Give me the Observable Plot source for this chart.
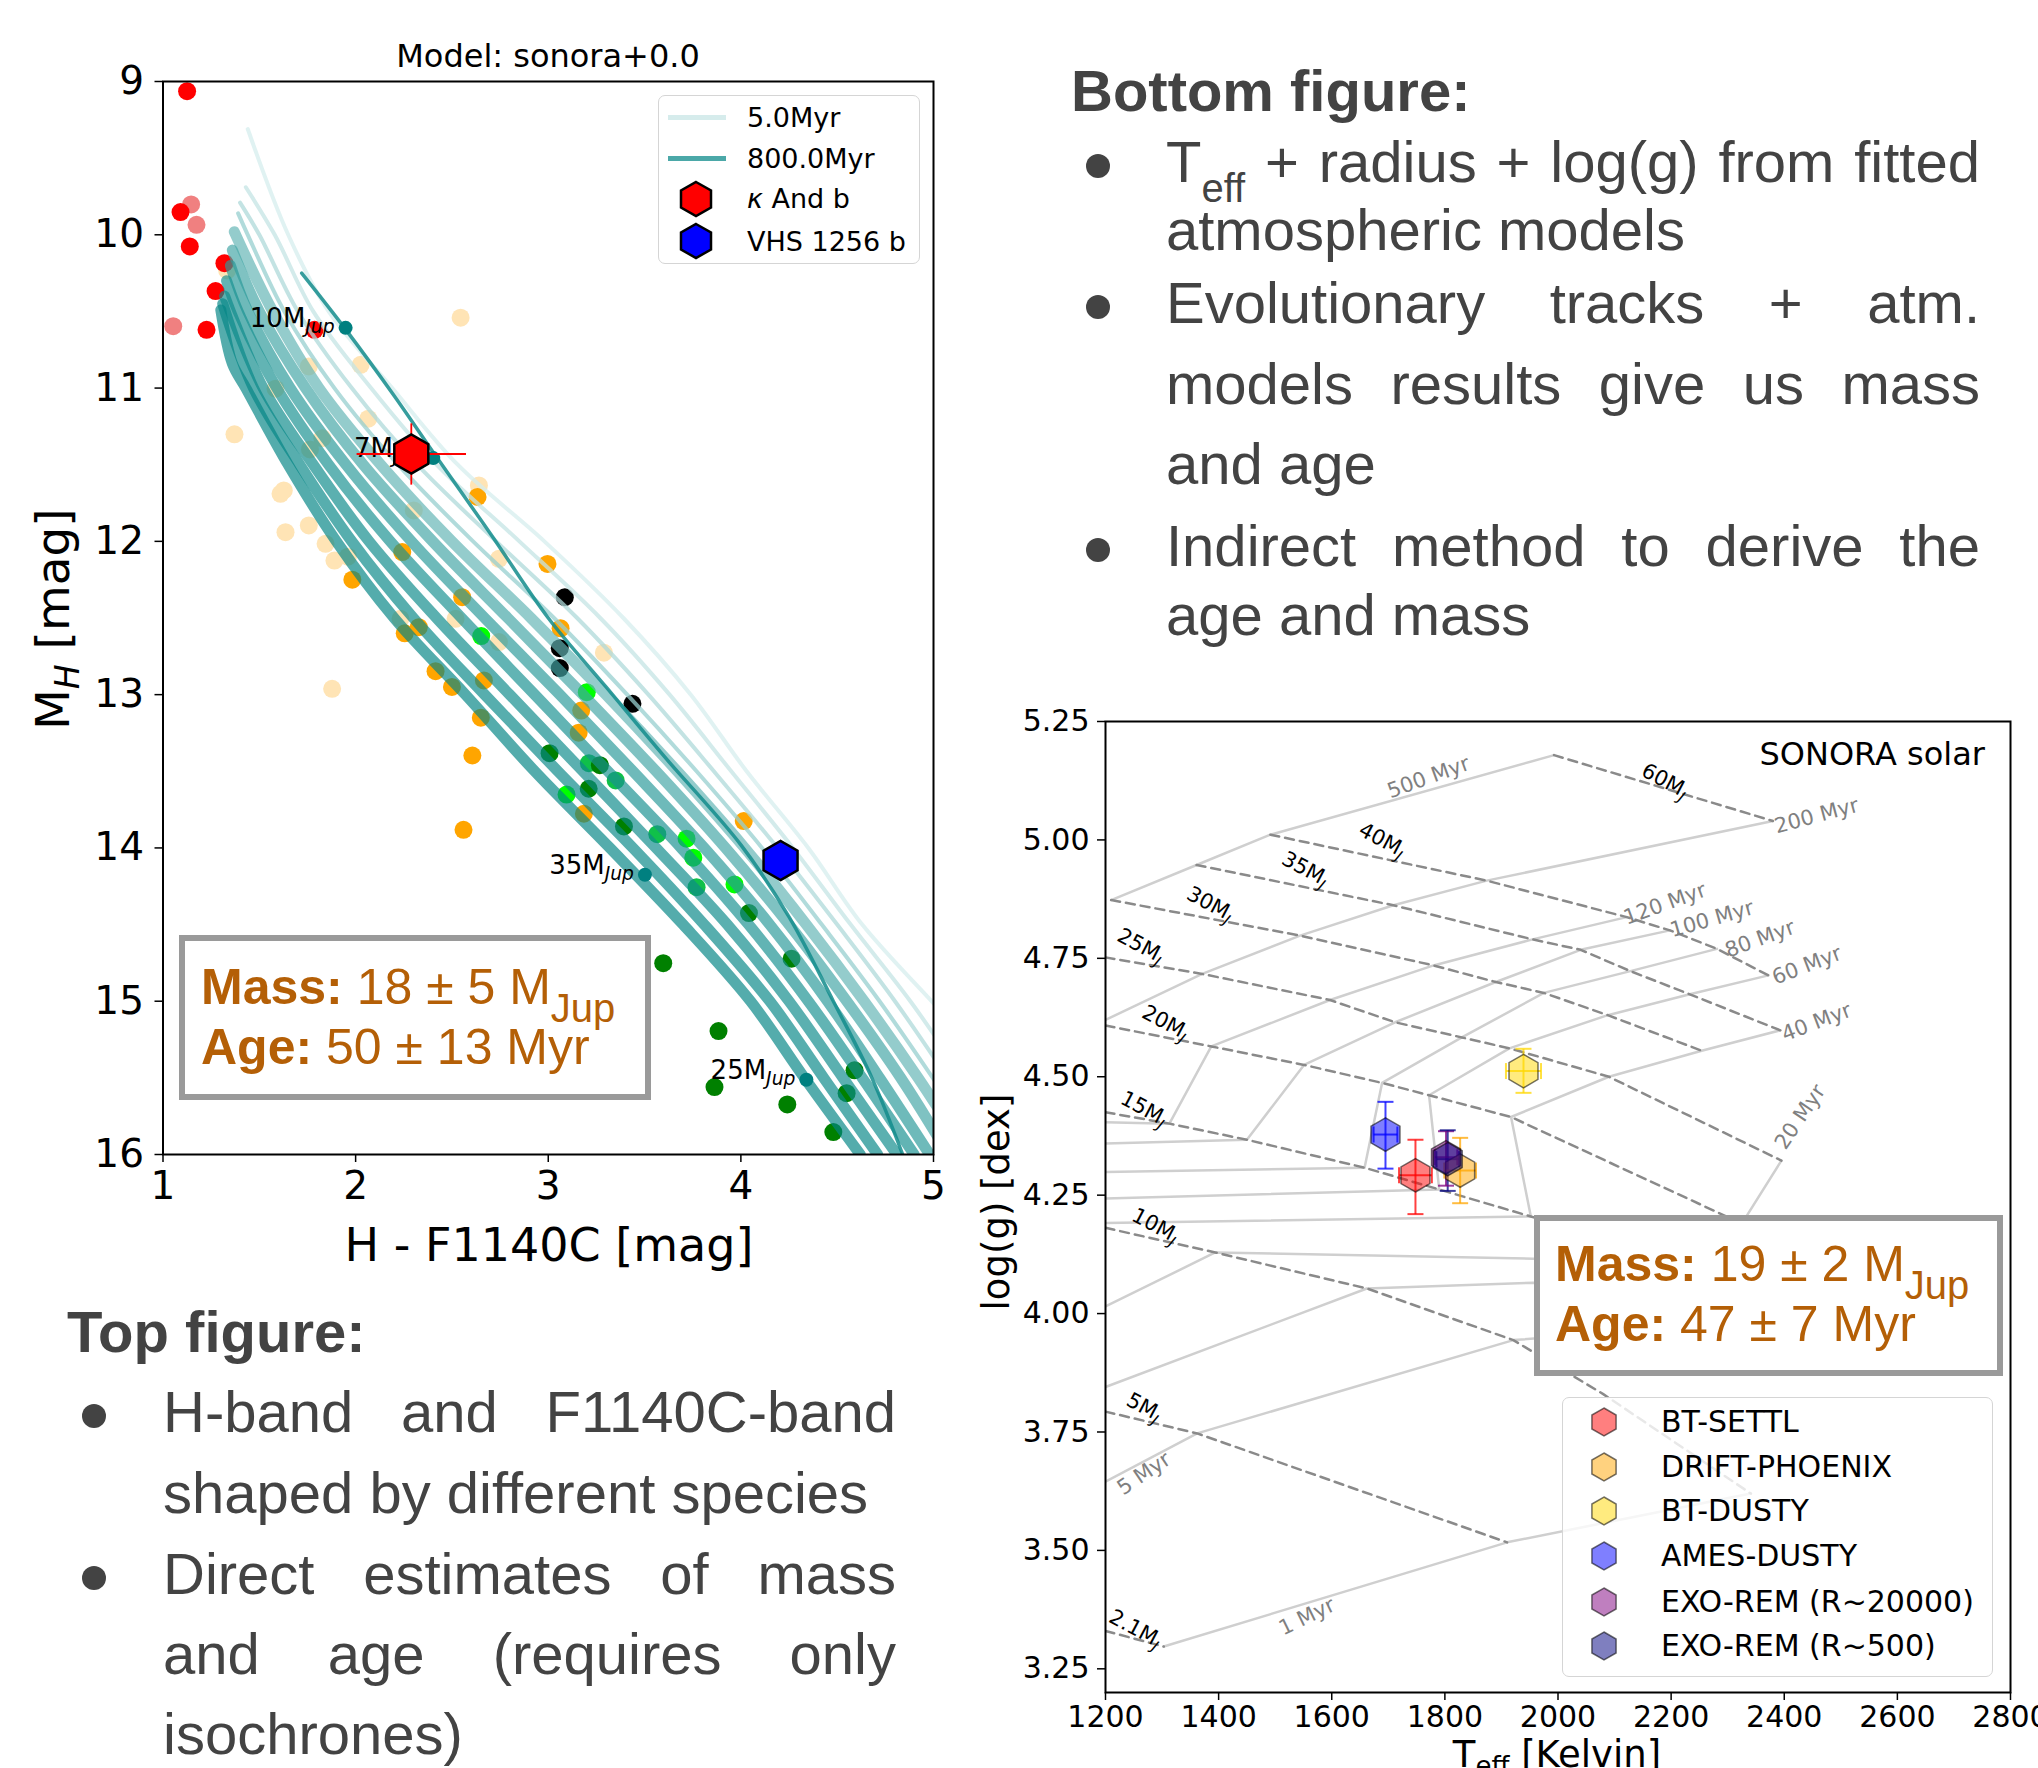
<!DOCTYPE html>
<html>
<head>
<meta charset="utf-8">
<script src="https://cdn.jsdelivr.net/npm/d3@7"></script>
<script src="https://cdn.jsdelivr.net/npm/@observablehq/plot@0.6"></script>
<style>
html,body{margin:0;padding:0;background:#fff;}
body{position:relative;width:2038px;height:1768px;overflow:hidden;}
.a{position:absolute;white-space:nowrap;}
.slide{font-family:"Liberation Sans",Arial,Helvetica,sans-serif;color:#434343;font-size:58px;line-height:58px;}
.j{text-align:justify;text-align-last:justify;}
.dotb{position:absolute;width:24px;height:24px;border-radius:50%;background:#434343;}
.mpl{font-family:"DejaVu Sans",sans-serif;color:#000;}
.box{position:absolute;box-sizing:border-box;border:6px solid #9a9a9a;background:#fff;}
.ma{font-family:"Liberation Sans",Arial,sans-serif;color:#b45f06;font-size:50px;line-height:50px;}
.ma b{font-weight:bold;}
.msub{font-size:40px;position:relative;top:18px;}
.tsub{font-size:40px;position:relative;top:20px;}
.leg{position:absolute;box-sizing:border-box;border:1.5px solid #d5d5d5;border-radius:7px;background:rgba(255,255,255,0.8);}
</style>
</head>
<body>
<div id="leftChart" class="a" style="left:0;top:0"></div>
<div id="rightChart" class="a" style="left:1000px;top:680px"></div>

<!-- left panel titles / labels -->
<div class="a mpl" style="left:548px;top:38px;transform:translateX(-50%);font-size:32px;line-height:36px;">Model: sonora+0.0</div>
<div class="a mpl" style="left:549px;top:1218px;transform:translateX(-50%);font-size:46px;line-height:54px;">H - F1140C [mag]</div>
<div class="a mpl" style="left:55px;top:619px;transform:translate(-50%,-50%) rotate(-90deg);font-size:47px;line-height:54px;">M<span style="font-style:italic;font-size:33px;position:relative;top:10px;">H</span> [mag]</div>

<!-- left legend -->
<div class="leg" style="left:658px;top:95px;width:262px;height:169px;"></div>
<div class="a" style="left:668px;top:115px;width:58px;height:5px;background:#d6ecec;"></div>
<div class="a" style="left:668px;top:156px;width:58px;height:5px;background:#4ba8a8;"></div>
<svg class="a" style="left:679px;top:180px" width="34" height="38"><polygon points="17,2 32,10.5 32,27.5 17,36 2,27.5 2,10.5" fill="#ff0000" stroke="#000" stroke-width="2.5"/></svg>
<svg class="a" style="left:679px;top:222px" width="34" height="38"><polygon points="17,2 32,10.5 32,27.5 17,36 2,27.5 2,10.5" fill="#0000ff" stroke="#000" stroke-width="2.5"/></svg>
<div class="a mpl" style="left:747px;top:102px;font-size:27px;line-height:32px;">5.0Myr</div>
<div class="a mpl" style="left:747px;top:143px;font-size:27px;line-height:32px;">800.0Myr</div>
<div class="a mpl" style="left:747px;top:183px;font-size:27px;line-height:32px;"><i>κ</i> And b</div>
<div class="a mpl" style="left:747px;top:226px;font-size:27px;line-height:32px;">VHS 1256 b</div>

<!-- left result box -->
<div class="box" style="left:179px;top:935px;width:472px;height:165px;"></div>
<div class="a ma" style="left:201px;top:962px;"><b>Mass:</b> 18 ± 5 M<span class="msub">Jup</span></div>
<div class="a ma" style="left:201px;top:1022px;"><b>Age:</b> 50 ± 13 Myr</div>

<!-- right panel labels -->
<div class="a mpl" style="left:1985px;top:736px;transform:translateX(-100%);font-size:32px;line-height:36px;">SONORA solar</div>
<div class="a mpl" style="left:997px;top:1202px;transform:translate(-50%,-50%) rotate(-90deg);font-size:37px;line-height:44px;">log(g) [dex]</div>
<div class="a mpl" style="left:1557px;top:1733px;transform:translateX(-50%);font-size:37px;line-height:44px;">T<span style="font-size:26px;position:relative;top:8px;">eff</span> [Kelvin]</div>

<!-- right result box -->
<div class="box" style="left:1534px;top:1215px;width:469px;height:161px;"></div>
<div class="a ma" style="left:1555px;top:1239px;"><b>Mass:</b> 19 ± 2 M<span class="msub">Jup</span></div>
<div class="a ma" style="left:1555px;top:1299px;"><b>Age:</b> 47 ± 7 Myr</div>

<!-- right legend -->
<div id="rightLegend"></div>

<!-- slide text: bottom figure -->
<div class="a slide" style="left:1071px;top:62px;font-weight:bold;">Bottom figure:</div>
<div class="dotb" style="left:1086px;top:154px;"></div>
<div class="a slide j" style="left:1166px;top:133px;width:814px;">T<span class="tsub">eff</span> + radius + log(g) from fitted</div>
<div class="a slide" style="left:1166px;top:201px;">atmospheric models</div>
<div class="dotb" style="left:1086px;top:295px;"></div>
<div class="a slide j" style="left:1166px;top:274px;width:814px;">Evolutionary tracks + atm.</div>
<div class="a slide j" style="left:1166px;top:355px;width:814px;">models results give us mass</div>
<div class="a slide" style="left:1166px;top:435px;">and age</div>
<div class="dotb" style="left:1086px;top:538px;"></div>
<div class="a slide j" style="left:1166px;top:517px;width:814px;">Indirect method to derive the</div>
<div class="a slide" style="left:1166px;top:586px;">age and mass</div>

<!-- slide text: top figure -->
<div class="a slide" style="left:67px;top:1303px;font-weight:bold;">Top figure:</div>
<div class="dotb" style="left:82px;top:1404px;"></div>
<div class="a slide j" style="left:163px;top:1383px;width:733px;">H-band and F1140C-band</div>
<div class="a slide" style="left:163px;top:1464px;">shaped by different species</div>
<div class="dotb" style="left:82px;top:1566px;"></div>
<div class="a slide j" style="left:163px;top:1545px;width:733px;">Direct estimates of mass</div>
<div class="a slide j" style="left:163px;top:1625px;width:733px;">and age (requires only</div>
<div class="a slide" style="left:163px;top:1705px;">isochrones)</div>

<script>
// ===================== LEFT PANEL DATA (H - F1140C vs M_H) =====================
const xTicksLeft = [1, 2, 3, 4, 5];
const yTicksLeft = [9, 10, 11, 12, 13, 14, 15, 16];

// field objects, by colour class: [colour, M_H]
const redPts = [[1.125,9.063],[1.091,9.852],[1.139,10.076],[1.319,10.185],[1.273,10.367],[1.226,10.62],[1.787,10.62]];
const coralPts = [[1.146,9.802],[1.174,9.935],[1.053,10.596]];
const moccasinPts = [[2.545,10.541],[1.333,10.233],[1.757,10.859],[2.026,10.848],[1.584,11.004],[2.066,11.2],[1.371,11.302],[1.827,11.327],[1.627,11.668],[1.636,11.94],[1.757,11.896],[1.844,12.016],[1.89,12.125],[1.878,12.962],[2.233,12.505],[2.744,12.114],[3.289,12.726],[2.744,12.657],[2.302,11.798],[2.64,11.635],[1.763,11.40],[1.61,11.69],[2.519,12.505],[1.96,12.1]];
const orangePts = [[2.633,11.71],[2.996,12.147],[1.983,12.25],[3.064,12.567],[2.255,12.6],[2.328,12.56],[2.415,12.847],[2.5,12.95],[2.65,13.15],[3.171,13.104],[3.158,13.248],[2.606,13.397],[3.185,13.777],[2.56,13.882],[4.015,13.825],[2.242,12.07],[2.553,12.364],[2.666,12.907]];
const blackPts = [[3.086,12.364],[3.06,12.697],[3.06,12.827],[3.437,13.06]];
const limePts = [[2.652,12.618],[3.2,12.984],[3.095,13.652],[3.718,13.94],[3.753,14.064],[3.967,14.238]];
const midGreenPts = [[3.35,13.56],[3.211,13.447],[3.566,13.91],[3.77,14.256]];
const darkGreenPts = [[3.268,13.46],[4.042,14.425],[3.597,14.752],[3.884,15.195],[3.863,15.56],[4.241,15.673],[4.48,15.854],[4.263,14.723],[4.59,15.451],[4.549,15.6],[3.393,13.86],[3.007,13.382],[3.21,13.614]];

// isochrones, from youngest (5 Myr) to oldest (800 Myr): [colour, M_H]
const isoA = [[1.44,9.31],[1.65,10.0],[1.86,10.5],[2.19,11.0],[2.53,11.5],[2.98,12.0],[3.39,12.5],[3.74,13.0],[4.03,13.5],[4.35,14.0],[4.63,14.5],[4.99,15.0],[5.1,15.15]];
const isoB = [[1.43,9.69],[1.58,10.0],[1.78,10.5],[2.08,11.0],[2.42,11.5],[2.85,12.0],[3.27,12.5],[3.63,13.0],[3.95,13.5],[4.27,14.0],[4.57,14.5],[4.88,15.0],[5.1,15.4]];
const isoC = [[1.40,9.79],[1.50,10.0],[1.70,10.5],[1.98,11.0],[2.32,11.5],[2.73,12.0],[3.15,12.5],[3.52,13.0],[3.86,13.5],[4.19,14.0],[4.50,14.5],[4.80,15.0],[5.1,15.55]];
const isoD = [[1.39,9.86],[1.44,10.0],[1.63,10.5],[1.89,11.0],[2.22,11.5],[2.61,12.0],[3.03,12.5],[3.41,13.0],[3.77,13.5],[4.11,14.0],[4.42,14.5],[4.72,15.0],[5.05,15.6]];
const isoE = [[1.37,9.98],[1.57,10.5],[1.81,11.0],[2.13,11.5],[2.50,12.0],[2.91,12.5],[3.30,13.0],[3.67,13.5],[4.02,14.0],[4.34,14.5],[4.64,15.0],[4.92,15.5],[5.05,15.75]];
const isoF = [[1.36,10.1],[1.50,10.5],[1.74,11.0],[2.04,11.5],[2.40,12.0],[2.79,12.5],[3.18,13.0],[3.56,13.5],[3.92,14.0],[4.25,14.5],[4.55,15.0],[4.83,15.5],[5.03,15.9]];
const isoG = [[1.35,10.2],[1.44,10.5],[1.66,11.0],[1.95,11.5],[2.29,12.0],[2.67,12.5],[3.06,13.0],[3.44,13.5],[3.81,14.0],[4.15,14.5],[4.45,15.0],[4.72,15.5],[4.98,16.0]];
const isoH = [[1.33,10.3],[1.39,10.5],[1.59,11.0],[1.86,11.5],[2.18,12.0],[2.55,12.5],[2.93,13.0],[3.31,13.5],[3.69,14.0],[4.04,14.5],[4.35,15.0],[4.63,15.5],[4.90,16.0]];
const isoI = [[1.32,10.4],[1.35,10.5],[1.52,11.0],[1.78,11.5],[2.07,12.0],[2.42,12.5],[2.80,13.0],[3.18,13.5],[3.56,14.0],[3.93,14.5],[4.25,15.0],[4.53,15.5],[4.81,16.0]];
const isoJ = [[1.31,10.45],[1.47,11.0],[1.71,11.5],[1.98,12.0],[2.30,12.5],[2.67,13.0],[3.05,13.5],[3.44,14.0],[3.81,14.5],[4.15,15.0],[4.43,15.5],[4.71,16.0]];
const isoK = [[1.30,10.49],[1.36,10.84],[1.43,11.0],[1.65,11.5],[1.90,12.0],[2.20,12.5],[2.57,13.0],[2.93,13.5],[3.32,14.0],[3.70,14.5],[4.05,15.0],[4.33,15.5],[4.62,16.0]];
const isoHighlight = [[1.72,10.25],[1.95,10.62],[2.2,11.05],[2.42,11.45],[2.7,11.95],[3.0,12.5],[3.3,12.95],[3.6,13.4],[4.0,13.98],[4.25,14.45],[4.48,15.0],[4.68,15.5],[4.84,16.0]];

const markerLabels = ["10M|Jup", "7M|Jup", "35M|Jup", "25M|Jup"];
const markerX = [1.948, 2.403, 3.502, 4.340];
const markerY = [10.607, 11.457, 14.175, 15.512];

const kAndB = {x: 2.289, y: 11.43, xerr: 0.284, yerr: 0.2};
const vhs1256b = {x: 4.206, y: 14.082};

// ===================== RIGHT PANEL DATA (Teff vs log g) =====================
const xTicksRight = [1200, 1400, 1600, 1800, 2000, 2200, 2400, 2600, 2800];
const yTicksRight = [3.25, 3.5, 3.75, 4.0, 4.25, 4.5, 4.75, 5.0, 5.25];

// mass tracks (dashed): [Teff, log g]
const track2p1 = [[1200,3.33],[1303,3.297]];
const track5 = [[1200,3.793],[1362,3.747],[1910,3.517]];
const track10 = [[1200,4.181],[1394,4.129],[1662,4.053],[1921,3.944],[2080,3.83],[2341,3.62]];
const track15 = [[1200,4.425],[1313,4.401],[1450,4.367],[1658,4.308],[1790,4.262],[1952,4.205],[2250,4.10]];
const track20 = [[1200,4.608],[1387,4.564],[1551,4.525],[1689,4.487],[1772,4.461],[1917,4.415],[2325,4.19]];
const track25 = [[1200,4.752],[1371,4.717],[1597,4.662],[1712,4.615],[1830,4.583],[1914,4.56],[2090,4.50],[2395,4.323]];
const track30 = [[1210,4.873],[1544,4.798],[1780,4.735],[1890,4.70],[1975,4.677],[2088,4.63],[2254,4.555]];
const track35 = [[1361,4.947],[1709,4.862],[1955,4.79],[2040,4.768],[2128,4.723],[2233,4.674],[2393,4.598]];
const track40 = [[1491.5,5.011],[1874,4.914],[2121.5,4.837],[2198,4.809],[2281,4.770],[2372,4.714]];
const track60 = [[1993,5.179],[2380,5.04]];

// isochrones (solid): [Teff, log g]
const iso500 = [[1210,4.873],[1361,4.947],[1491.5,5.011],[1993,5.179]];
const iso200 = [[1200,4.620],[1371,4.717],[1544,4.798],[1709,4.862],[1874,4.914],[2380,5.04]];
const iso120 = [[1200,4.404],[1313,4.401],[1387,4.564],[1597,4.662],[1780,4.735],[1955,4.79],[2121.5,4.837]];
const iso100 = [[1200,4.359],[1450,4.367],[1551,4.525],[1712,4.615],[1890,4.70],[2040,4.768],[2198,4.809]];
const iso80 = [[1200,4.299],[1658,4.308],[1689,4.487],[1830,4.583],[1975,4.677],[2128,4.723],[2281,4.770]];
const iso60 = [[1200,4.243],[1790,4.262],[1772,4.461],[1914,4.56],[2088,4.63],[2233,4.674],[2372,4.714]];
const iso40 = [[1200,4.191],[1952,4.205],[1917,4.415],[2090,4.50],[2254,4.555],[2393,4.598]];
const iso20 = [[1200,4.015],[1394,4.129],[1956,4.116],[2250,4.10],[2325,4.19],[2395,4.323]];
const iso10 = [[1200,3.845],[1662,4.053],[1956,4.065],[2200,4.05]];
const iso5 = [[1200,3.645],[1362,3.747],[1921,3.944],[2100,3.96]];
const iso1 = [[1303,3.297],[1910,3.517],[2341,3.62]];

const massLabels = ["60M|J","40M|J","35M|J","30M|J","25M|J","20M|J","15M|J","10M|J","5M|J","2.1M|J"];
const massLabelT = [2189, 1689, 1553, 1385, 1262, 1306, 1268, 1288, 1268, 1253];
const massLabelG = [5.125, 5.0, 4.939, 4.865, 4.777, 4.615, 4.433, 4.186, 3.803, 3.335];

const ageLabels = ["500 Myr","200 Myr","120 Myr","100 Myr","80 Myr","60 Myr","40 Myr","20 Myr","5 Myr","1 Myr"];
const ageLabelT = [1771, 2457, 2189, 2272, 2357, 2440, 2457, 2428, 1268, 1556];
const ageLabelG = [5.132, 5.051, 4.865, 4.833, 4.791, 4.735, 4.615, 4.415, 3.662, 3.36];

const models = ["BT-SETTL","DRIFT-PHOENIX","BT-DUSTY","AMES-DUSTY","EXO-REM (R~20000)","EXO-REM (R~500)"];
const modelTeff = [1748, 1827, 1939, 1695, 1802, 1805];
const modelTeffErr = [29, 28, 31, 21, 20, 20];
const modelLogg = [4.292, 4.302, 4.512, 4.378, 4.33, 4.326];
const modelLoggLo = [4.21, 4.233, 4.466, 4.306, 4.27, 4.259];
const modelLoggHi = [4.367, 4.371, 4.559, 4.447, 4.385, 4.387];

// ===================== STYLES (kept apart from the data) =====================
const scatterColors = {moccasin:"#ffe4b5", coral:"#f08080", red:"#ff0000", orange:"#ffa500", black:"#000000", lime:"#00ff00", mid:"#10c04a", dark:"#008000"};
const lightShades = ["#d6eded","#c4e4e4","#afdada","#97cfcf"];
const darkShades = ["#62b4b4","#43a5a5","#2a9999","#189191","#0e8b8b","#088888","#038585"];
const modelColors = ["#ff0000","#ffa500","#ffd700","#0000ff","#800080","#000080"];
const ageLabelAngles = [-20, -15, -20, -16, -20, -21, -21, -56, -34, -26];
const massLabelAngle = 28;

// ===================== helpers =====================
function addSubscripts(svg, italic) {
  svg.querySelectorAll("text").forEach(t => {
    const s = t.textContent;
    if (s.includes("|")) {
      const [a, b] = s.split("|");
      t.textContent = a;
      const ts = document.createElementNS("http://www.w3.org/2000/svg", "tspan");
      ts.setAttribute("font-size", "0.72em");
      ts.setAttribute("dy", "0.32em");
      if (italic) ts.setAttribute("font-style", "italic");
      ts.textContent = b;
      t.appendChild(ts);
    }
  });
}
const hCap = {draw(ctx, size) { const r = Math.sqrt(size / Math.PI); ctx.moveTo(-r, 0); ctx.lineTo(r, 0); }};
const vCap = {draw(ctx, size) { const r = Math.sqrt(size / Math.PI); ctx.moveTo(0, -r); ctx.lineTo(0, r); }};
const intFmt = d3.format("d");

// ===================== LEFT PANEL =====================
const scatter = [];
const addPts = (arr, c) => arr.forEach(([x, y]) => scatter.push({x, y, c}));
addPts(moccasinPts, "moccasin"); addPts(coralPts, "coral"); addPts(redPts, "red");
addPts(orangePts, "orange"); addPts(blackPts, "black"); addPts(limePts, "lime");
addPts(midGreenPts, "mid"); addPts(darkGreenPts, "dark");

const lightIsos = [isoA, isoB, isoC, isoD];
const darkIsos = [isoE, isoF, isoG, isoH, isoI, isoJ, isoK];
const lightRows = lightIsos.flatMap((pts, i) => pts.map(([x, y]) => ({x, y, id: i})));
const darkRows = darkIsos.flatMap((pts, i) => pts.map(([x, y]) => ({x, y, id: i})));
const markers = markerLabels.map((label, i) => ({label, x: markerX[i], y: markerY[i]}));

const left = Plot.plot({
  width: 960, height: 1200,
  marginLeft: 162.5, marginRight: 27, marginTop: 81, marginBottom: 46,
  style: {fontFamily: "DejaVu Sans", fontSize: "39px", color: "#000", background: "transparent", overflow: "visible"},
  color: {type: "identity"},
  x: {domain: [1, 5], label: null},
  y: {domain: [9, 16], reverse: true, label: null},
  marks: [
    Plot.dot(scatter, {x: "x", y: "y", r: 9, fill: d => scatterColors[d.c]}),
    Plot.line(lightRows, {x: "x", y: "y", z: "id", stroke: d => lightShades[d.id], strokeWidth: 4, strokeOpacity: 0.75, curve: "catmull-rom", clip: true}),
    Plot.line(darkRows, {x: "x", y: "y", z: "id", stroke: d => darkShades[d.id], strokeWidth: 11, strokeOpacity: 0.68, curve: "catmull-rom", clip: true}),
    Plot.line(isoHighlight, {x: d => d[0], y: d => d[1], stroke: "#138c8c", strokeWidth: 3.5, strokeOpacity: 0.85, curve: "catmull-rom", clip: true}),
    Plot.dot(markers, {x: "x", y: "y", r: 7, fill: "#008080"}),
    Plot.text(markers, {x: "x", y: "y", text: "label", textAnchor: "end", dx: -11, dy: -9, fontSize: 26, fill: "#000"}),
    Plot.link([kAndB], {x1: d => d.x - d.xerr, x2: d => d.x + d.xerr, y1: "y", y2: "y", stroke: "#ff0000", strokeWidth: 1.8}),
    Plot.link([kAndB], {x1: "x", x2: "x", y1: d => d.y - d.yerr, y2: d => d.y + d.yerr, stroke: "#ff0000", strokeWidth: 1.8}),
    Plot.dot([kAndB], {x: "x", y: "y", symbol: "hexagon", r: 17, fill: "#ff0000", stroke: "#000", strokeWidth: 2.5}),
    Plot.dot([vhs1256b], {x: "x", y: "y", symbol: "hexagon", r: 17, fill: "#0000ff", stroke: "#000", strokeWidth: 2.5}),
    Plot.axisX({ticks: xTicksLeft, tickFormat: intFmt, tickSize: 8, tickPadding: 9, strokeWidth: 1.5, label: null}),
    Plot.axisY({ticks: yTicksLeft, tickFormat: intFmt, tickSize: 8, tickPadding: 11, strokeWidth: 1.5, label: null}),
    Plot.frame({stroke: "#000", strokeWidth: 2})
  ]
});
addSubscripts(left, true);
document.getElementById("leftChart").appendChild(left);

// ===================== RIGHT PANEL =====================
const trackSeries = [track2p1, track5, track10, track15, track20, track25, track30, track35, track40, track60];
const isoRight = [iso500, iso200, iso120, iso100, iso80, iso60, iso40, iso20, iso10, iso5, iso1];
const trackRows = trackSeries.flatMap((pts, i) => pts.map(([T, g]) => ({T, g, id: i})));
const isoRows = isoRight.flatMap((pts, i) => pts.map(([T, g]) => ({T, g, id: i})));
const massLabelRows = massLabels.map((label, i) => ({label, T: massLabelT[i], g: massLabelG[i]}));
const ageLabelRows = ageLabels.map((label, i) => ({label, T: ageLabelT[i], g: ageLabelG[i], angle: ageLabelAngles[i]}));
const fits = models.map((m, i) => ({m, i, T: modelTeff[i], dT: modelTeffErr[i], g: modelLogg[i], lo: modelLoggLo[i], hi: modelLoggHi[i], col: modelColors[i]}));

const right = Plot.plot({
  width: 1038, height: 1088,
  marginLeft: 105, marginRight: 28, marginTop: 41, marginBottom: 76,
  style: {fontFamily: "DejaVu Sans", fontSize: "30px", color: "#000", background: "transparent", overflow: "visible"},
  color: {type: "identity"},
  x: {domain: [1200, 2800], label: null},
  y: {domain: [3.2, 5.25], label: null},
  marks: [
    Plot.line(isoRows, {x: "T", y: "g", z: "id", stroke: "#cfcfcf", strokeWidth: 2.5, clip: true}),
    Plot.line(trackRows, {x: "T", y: "g", z: "id", stroke: "#8a8a8a", strokeWidth: 2.5, strokeDasharray: "9,6", clip: true}),
    Plot.text(massLabelRows, {x: "T", y: "g", text: "label", rotate: massLabelAngle, fontSize: 21, fill: "#000"}),
    Plot.text(ageLabelRows, {x: "T", y: "g", text: "label", rotate: "angle", fontSize: 21, fill: "#808080"}),
    Plot.link(fits, {x1: "T", x2: "T", y1: "lo", y2: "hi", stroke: "col", strokeWidth: 2, strokeOpacity: 0.75}),
    Plot.link(fits, {x1: d => d.T - d.dT, x2: d => d.T + d.dT, y1: "g", y2: "g", stroke: "col", strokeWidth: 2, strokeOpacity: 0.75}),
    Plot.dot(fits, {x: "T", y: "lo", symbol: hCap, r: 8, stroke: "col", strokeWidth: 2, strokeOpacity: 0.75}),
    Plot.dot(fits, {x: "T", y: "hi", symbol: hCap, r: 8, stroke: "col", strokeWidth: 2, strokeOpacity: 0.75}),
    Plot.dot(fits, {x: d => d.T - d.dT, y: "g", symbol: vCap, r: 8, stroke: "col", strokeWidth: 2, strokeOpacity: 0.75}),
    Plot.dot(fits, {x: d => d.T + d.dT, y: "g", symbol: vCap, r: 8, stroke: "col", strokeWidth: 2, strokeOpacity: 0.75}),
    Plot.dot(fits, {x: "T", y: "g", symbol: "hexagon", r: 14.5, fill: "col", fillOpacity: 0.5, stroke: "#000", strokeOpacity: 0.55, strokeWidth: 1.5}),
    Plot.axisX({ticks: xTicksRight, tickFormat: intFmt, tickSize: 8, tickPadding: 5, strokeWidth: 1.5, label: null}),
    Plot.axisY({ticks: yTicksRight, tickFormat: d3.format(".2f"), tickSize: 8, tickPadding: 8, strokeWidth: 1.5, label: null}),
    Plot.frame({stroke: "#000", strokeWidth: 2})
  ]
});
addSubscripts(right, true);
document.getElementById("rightChart").appendChild(right);

// ===================== RIGHT LEGEND (HTML) =====================
const legendRowY = [1422, 1467, 1511, 1556, 1602, 1646];
const legHost = document.getElementById("rightLegend");
let html = '<div class="leg" style="left:1562px;top:1397px;width:431px;height:280px;"></div>';
models.forEach((m, i) => {
  const cy = legendRowY[i];
  html += `<svg class="a" style="left:1589px;top:${cy - 16}px" width="30" height="32"><polygon points="15,2 27.1,9 27.1,23 15,30 2.9,23 2.9,9" fill="${modelColors[i]}" fill-opacity="0.5" stroke="#000" stroke-opacity="0.55" stroke-width="1.5"/></svg>`;
  html += `<div class="a mpl" style="left:1661px;top:${cy - 18}px;font-size:30px;line-height:36px;">${m}</div>`;
});
legHost.innerHTML = html;
</script>
</body>
</html>
